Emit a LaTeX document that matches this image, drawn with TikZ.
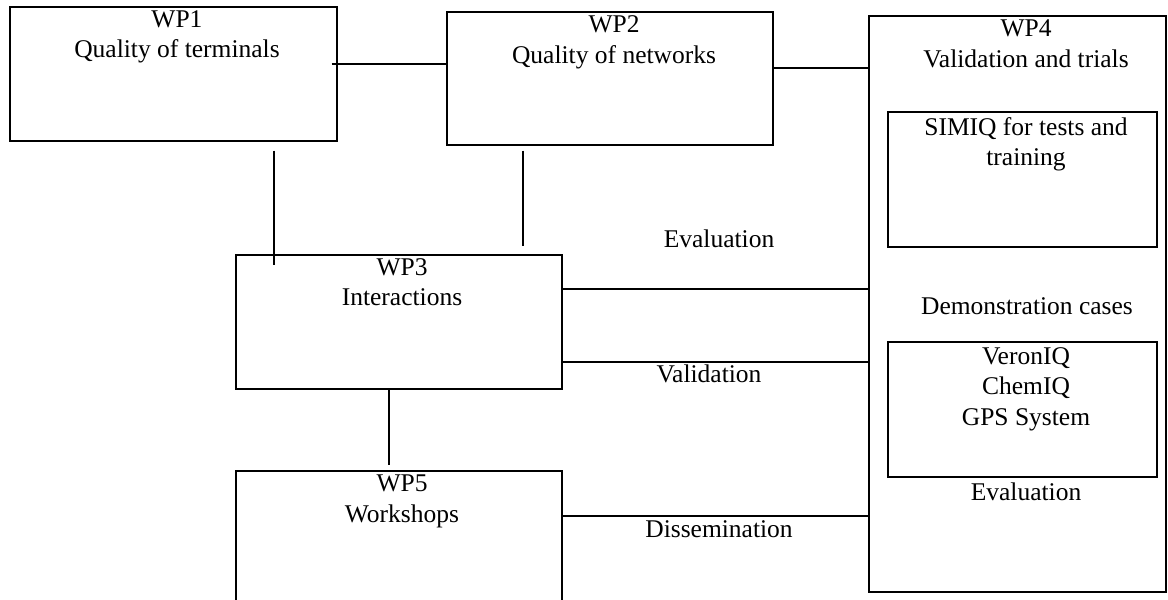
\documentclass[tikz,border=0pt]{standalone}
\usepackage{fontspec}
\setmainfont{Liberation Serif}
\usetikzlibrary{calc}
\begin{document}
\begin{tikzpicture}[x=1pt,y=-1pt,
  box/.style={draw,line width=1.3pt,inner sep=0pt,rectangle},
  txt/.style={inner sep=0pt,anchor=north,align=center,font=\fontsize{25.5}{30.5}\selectfont},
  link/.style={line width=1.3pt}]
\useasboundingbox (0,0) rectangle (1168,600);
\clip (0,0) rectangle (1168,600);
\fill[white] (0,0) rectangle (1168,600);

% work package boxes
\node[box,minimum width=327pt,minimum height=134pt] (wp1) at (173.5,74) {};
\node[box,minimum width=326pt,minimum height=133pt] (wp2) at (610,78.5) {};
\node[box,minimum width=297pt,minimum height=576pt] (wp4) at (1017.5,304) {};
\node[box,minimum width=269pt,minimum height=135pt] (simiq) at (1022.5,179.5) {};
\node[box,minimum width=269pt,minimum height=135pt] (demo) at (1022.5,409.5) {};
\node[box,minimum width=326pt,minimum height=134pt] (wp3) at (399,322) {};
\node[box,minimum width=326pt,minimum height=149pt] (wp5) at (399,545.5) {};

% box titles
\node[txt] (t1) at (177,10) {WP1\\Quality of terminals};
\node[txt] (t2) at (614,15.5) {WP2\\Quality of networks};
\node[txt] (t4) at (1026,20) {WP4\\Validation and trials};
\node[txt] (ts) at (1026,117) {SIMIQ for tests and\\training};
\node[txt] (tdc) at (1027,297) {Demonstration cases};
\node[txt] (td) at (1026,347) {VeronIQ\\ChemIQ\\GPS System};
\node[txt] (tev2) at (1026,483) {Evaluation};
\node[txt] (t3) at (402,258) {WP3\\Interactions};
\node[txt] (t5) at (402,475) {WP5\\Workshops};

% connector labels
\node[txt] (lev) at (719,230) {Evaluation};
\node[txt] (lva) at (709,365) {Validation};
\node[txt] (ldi) at (719,520) {Dissemination};

% connectors
\draw[link] ($(wp1.east)+(-6,-10)$) coordinate (a) -- (a -| wp2.west);
\draw[link] ($(wp2.east)+(0,-10.5)$) coordinate (b) -- (b -| wp4.west);
\draw[link] ($(wp1.south)+(100.5,9)$) coordinate (c) -- ($(c |- wp3.north)+(0,11)$);
\draw[link] ($(wp2.south)+(-87,5)$) coordinate (d) -- ($(d |- wp3.north)+(0,-8)$);
\draw[link] ($(wp3.east)+(0,-33)$) coordinate (e) -- (e -| wp4.west);
\draw[link] ($(wp3.east)+(0,40)$) coordinate (f) -- (f -| wp4.west);
\draw[link] ($(wp3.south)+(-10,0)$) coordinate (g) -- ($(g |- wp5.north)+(0,-5)$);
\draw[link] ($(wp5.east)+(0,-29.5)$) coordinate (h) -- (h -| wp4.west);
\end{tikzpicture}
\end{document}
